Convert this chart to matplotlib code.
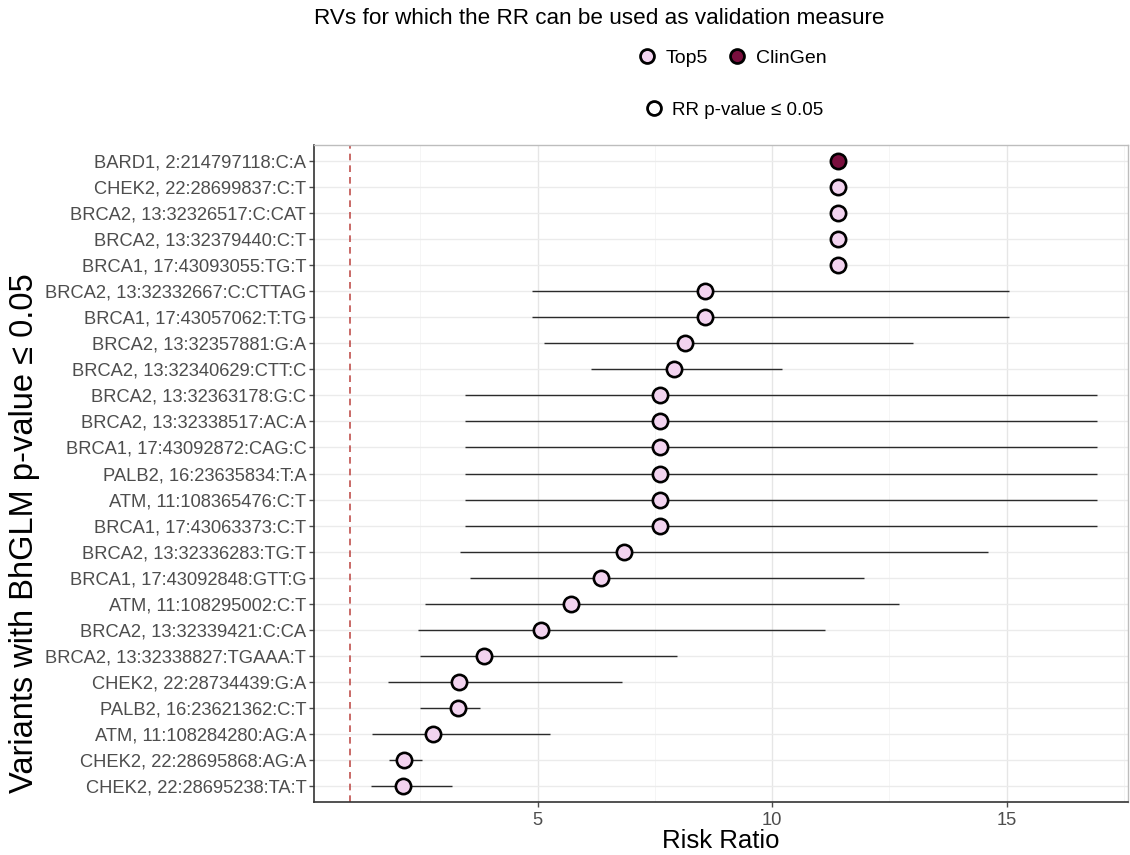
import matplotlib.pyplot as plt
from matplotlib.lines import Line2D

plt.rcParams['font.family'] = ['Liberation Sans', 'DejaVu Sans']

# variants, top to bottom
variants = [
    "BARD1, 2:214797118:C:A",
    "CHEK2, 22:28699837:C:T",
    "BRCA2, 13:32326517:C:CAT",
    "BRCA2, 13:32379440:C:T",
    "BRCA1, 17:43093055:TG:T",
    "BRCA2, 13:32332667:C:CTTAG",
    "BRCA1, 17:43057062:T:TG",
    "BRCA2, 13:32357881:G:A",
    "BRCA2, 13:32340629:CTT:C",
    "BRCA2, 13:32363178:G:C",
    "BRCA2, 13:32338517:AC:A",
    "BRCA1, 17:43092872:CAG:C",
    "PALB2, 16:23635834:T:A",
    "ATM, 11:108365476:C:T",
    "BRCA1, 17:43063373:C:T",
    "BRCA2, 13:32336283:TG:T",
    "BRCA1, 17:43092848:GTT:G",
    "ATM, 11:108295002:C:T",
    "BRCA2, 13:32339421:C:CA",
    "BRCA2, 13:32338827:TGAAA:T",
    "CHEK2, 22:28734439:G:A",
    "PALB2, 16:23621362:C:T",
    "ATM, 11:108284280:AG:A",
    "CHEK2, 22:28695868:AG:A",
    "CHEK2, 22:28695238:TA:T",
]
rr = [11.40, 11.40, 11.40, 11.40, 11.40, 8.57, 8.57, 8.15, 7.90, 7.61,
      7.61, 7.61, 7.61, 7.61, 7.61, 6.84, 6.35, 5.71, 5.07, 3.86,
      3.32, 3.30, 2.77, 2.15, 2.12]
ci_low = [11.25, 11.25, 11.25, 11.25, 11.25, 4.88, 4.88, 5.13, 6.13, 3.44,
          3.44, 3.44, 3.44, 3.44, 3.44, 3.34, 3.56, 2.60, 2.45, 2.49,
          1.81, 2.49, 1.47, 1.83, 1.45]
ci_high = [11.55, 11.55, 11.55, 11.55, 11.55, 15.05, 15.05, 13.01, 10.22, 16.93,
           16.93, 16.93, 16.93, 16.93, 16.93, 14.60, 11.96, 12.71, 11.13, 7.97,
           6.80, 3.77, 5.26, 2.53, 3.17]
group = ["ClinGen"] + ["Top5"] * 24
group_colors = {"Top5": "#F2D3EF", "ClinGen": "#7A0F3E"}

fig = plt.figure(figsize=(11.3, 8.55), dpi=100)
ax = fig.add_axes([314 / 1130, 1 - 802 / 855, (1128 - 314) / 1130, (802 - 145) / 855])

n = len(variants)
ypos = list(range(n - 1, -1, -1))

# grid
for x in [2.5, 7.5, 12.5, 17.5]:
    ax.axvline(x, color="#F4F4F4", lw=0.6, zorder=0)
for x in [5, 10, 15]:
    ax.axvline(x, color="#E6E6E6", lw=1.0, zorder=0)
for y in ypos:
    ax.axhline(y, color="#EBEBEB", lw=1.0, zorder=0)

ax.axvline(1, color="#C0504D", lw=1.2, ls=(0, (4, 3)), zorder=1)

ax.hlines(ypos, ci_low, ci_high, color="#2B2B2B", lw=1.0, zorder=2)
for y, v, g in zip(ypos, rr, group):
    ax.plot(v, y, "o", ms=11, mfc=group_colors[g], mec="black", mew=1.9, zorder=3)

ax.set_xlim(0.23, 17.59)
ax.set_ylim(-0.6, n - 0.4)
ax.set_xticks([5, 10, 15])
ax.set_yticks(ypos)
ax.set_yticklabels(variants)
ax.tick_params(axis="both", colors="#4D4D4D", labelsize=13.2, length=3.5, width=1)
ax.tick_params(axis="x", pad=4)
ax.tick_params(axis="y", pad=2)

for side in ["top", "right"]:
    ax.spines[side].set_color("#BDBDBD")
    ax.spines[side].set_linewidth(1.0)
for side in ["left", "bottom"]:
    ax.spines[side].set_color("#333333")
    ax.spines[side].set_linewidth(1.2)

ax.set_xlabel("Risk Ratio", fontsize=18.5, labelpad=0)
ax.set_ylabel("Variants with BhGLM p-value \u2264 0.05", fontsize=23.5)
ax.yaxis.set_label_coords(-0.336, 0.409)

fig.text(314 / 1130, 1 - 19 / 855, "RVs for which the RR can be used as validation measure",
         ha="left", va="center", fontsize=16.2)

# legends
fill_handles = [
    Line2D([], [], ls="none", marker="o", ms=10, mfc=group_colors[k], mec="black", mew=2.0)
    for k in ["Top5", "ClinGen"]
]
fig.legend(fill_handles, ["Top5", "ClinGen"], ncol=2, loc="center",
           bbox_to_anchor=(731 / 1130, 1 - 58 / 855), frameon=False,
           fontsize=14, handletextpad=0.35, columnspacing=0.9, handlelength=1.2)
sig_handle = Line2D([], [], ls="none", marker="o", ms=10, mfc="white", mec="black", mew=2.0)
fig.legend([sig_handle], ["RR p-value \u2264 0.05"], loc="center",
           bbox_to_anchor=(733 / 1130, 1 - 110 / 855), frameon=False,
           fontsize=13.5, handletextpad=0.35, handlelength=1.2)

fig.savefig("out.png", dpi=100)
